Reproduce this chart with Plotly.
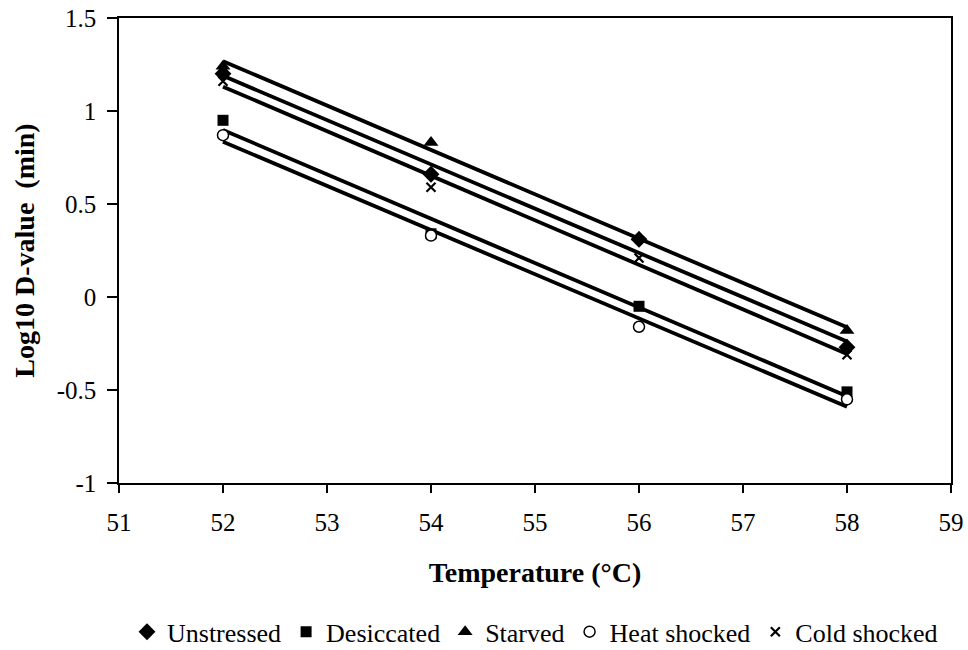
import numpy as np
import plotly.graph_objects as go

temps = [52, 54, 56, 58]
unstressed = [1.20, 0.66, 0.31, -0.27]
desiccated = [0.95, 0.34, -0.05, -0.51]
starved = [1.24, 0.83, 0.32, -0.18]
heat_shocked = [0.87, 0.33, -0.16, -0.55]
cold_shocked = [1.16, 0.59, 0.21, -0.31]
x_ticks = [51, 52, 53, 54, 55, 56, 57, 58, 59]
y_ticks = [-1, -0.5, 0, 0.5, 1, 1.5]
y_ticklabels = ["-1", "-0.5", "0", "0.5", "1", "1.5"]

series = [
    ("Unstressed", unstressed, dict(symbol="diamond", size=13, color="black")),
    ("Desiccated", desiccated, dict(symbol="square", size=11, color="black")),
    ("Starved", starved, dict(symbol="triangle-up", size=13, color="black")),
    ("Heat shocked", heat_shocked, dict(symbol="circle", size=11, color="white",
                                        line=dict(color="black", width=1.5))),
    ("Cold shocked", cold_shocked, dict(symbol="x-thin", size=9, color="black",
                                        line=dict(color="black", width=2.2))),
]

fig = go.Figure()
x = np.array(temps, dtype=float)
for name, vals, mk in series:
    k, b = np.polyfit(x, np.array(vals), 1)
    xl = np.array([x.min(), x.max()])
    fig.add_trace(go.Scatter(x=xl, y=k * xl + b, mode="lines",
                             line=dict(color="black", width=3.8),
                             showlegend=False, hoverinfo="skip"))
for name, vals, mk in series:
    fig.add_trace(go.Scatter(x=temps, y=vals, mode="markers", name=name,
                             marker=mk))

font = "Liberation Serif"


def serif(t):
    return "<span style='font-family:\"Liberation Serif\",\"Times New Roman\",serif'>%s</span>" % t


tfont = dict(size=25, family=font, color="black")
fig.update_layout(
    width=968, height=650,
    margin=dict(l=119, r=17, t=18, b=167, autoexpand=False),
    paper_bgcolor="white", plot_bgcolor="white",
    font=dict(family=font, size=24, color="black"),
    showlegend=True,
    legend=dict(orientation="h", x=0.5, xanchor="center", y=-0.32, yanchor="middle",
                font=dict(size=26, family=font), itemwidth=30, tracegroupgap=0,
                bgcolor="rgba(0,0,0,0)"),
)
fig.update_xaxes(range=[51, 59], tickvals=x_ticks, ticktext=[serif(v) for v in x_ticks],
                 automargin=False,
                 showgrid=False, zeroline=False, showline=True, linecolor="black",
                 linewidth=1.5, mirror=True, ticks="outside", ticklen=8,
                 tickcolor="black", tickwidth=1.5, ticklabelstandoff=8,
                 tickfont=tfont,
                 title=dict(text="<b>Temperature (°C)</b>",
                            font=dict(size=28, family=font), standoff=28))
fig.update_yaxes(range=[-1, 1.5], tickvals=y_ticks, ticktext=[serif(t) for t in y_ticklabels],
                 automargin=False,
                 showgrid=False, zeroline=False, showline=True, linecolor="black",
                 linewidth=1.5, mirror=True, ticks="outside", ticklen=10,
                 tickcolor="black", tickwidth=1.5, ticklabelstandoff=6,
                 tickfont=tfont,
                 title=dict(text="<b>Log10 D-value\u00a0 (min)</b>",
                            font=dict(size=28, family=font), standoff=14))
fig.write_html("out.html", config={"displayModeBar": False},
               post_script="document.body.style.margin='0px';document.body.style.overflow='hidden';")
